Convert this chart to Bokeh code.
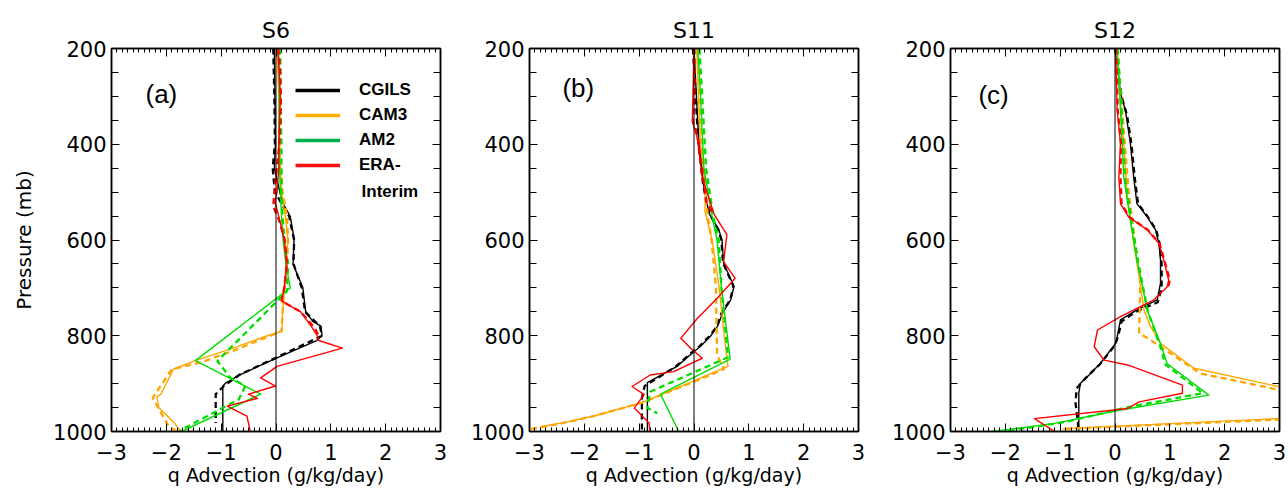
from bokeh.plotting import figure
from bokeh.layouts import row
from bokeh.models import (Range1d, SingleIntervalTicker, LinearAxis, Span,
                          Legend, LegendItem, Label)
from bokeh.embed import file_html
from bokeh.resources import INLINE

# ---------------- tick labels ----------------
X_TICKS = [-3, -2, -1, 0, 1, 2, 3]
X_TICK_LABELS = ["\u22123", "\u22122", "\u22121", "0", "1", "2", "3"]
Y_TICKS = [200, 400, 600, 800, 1000]
TITLES = ["S6", "S11", "S12"]
TAGS = ["(a)", "(b)", "(c)"]
MODELS = ["CGILS", "CAM3", "AM2", "ERA-"]
NAN = [float("nan")]

# ---------------- panel (a) S6 ----------------
A_CGILS_P = [200, 300, 400, 450, 490, 519, 551, 597, 650, 700, 749, 770, 780, 800, 810, 846, 881, 899, 905, 1000]
A_CGILS_X = [-0.03, -0.02, -0.01, -0.03, 0.05, 0.11, 0.26, 0.33, 0.31, 0.49, 0.54, 0.67, 0.82, 0.84, 0.74, 0.02, -0.65, -0.92, -0.97, -0.97]
A_CGILS_DP = [200, 300, 400, 450, 500, 551, 600, 650, 700, 750, 780, 800, 846, 881, 905, 922, 982]
A_CGILS_DX = [-0.05, -0.03, -0.02, -0.06, -0.02, 0.24, 0.33, 0.32, 0.47, 0.53, 0.80, 0.84, 0.00, -0.66, -0.95, -1.10, -1.10]

A_CAM3_P = [200, 300, 400, 500, 550, 600, 650, 700, 750, 791, 800, 826, 853, 870, 922, 927, 950, 981, 1000]
A_CAM3_X = [0.02, 0.05, 0.07, 0.10, 0.17, 0.22, 0.18, 0.16, 0.12, 0.11, -0.16, -0.78, -1.50, -1.87, -2.10, -2.17, -2.14, -1.86, -1.74]
A_CAM3_DP = [200, 300, 400, 500, 550, 600, 650, 700, 750, 790, 800, 830, 855, 870, 930, 990, 1000]
A_CAM3_DX = [0.05, 0.08, 0.06, 0.12, 0.20, 0.22, 0.20, 0.15, 0.12, 0.10, -0.10, -0.75, -1.35, -1.90, -2.25, -1.95, -1.80]

A_AM2_P = [200, 300, 400, 500, 550, 600, 650, 700, 852, 922, 1000]
A_AM2_X = [0.05, 0.06, 0.05, 0.08, 0.10, 0.13, 0.18, 0.26, -1.47, -0.28, -1.72]
A_AM2_DP = [200, 300, 400, 500, 550, 600, 650, 707, 853, 888, 905, 933, 998]
A_AM2_DX = [0.08, 0.08, 0.10, 0.10, 0.12, 0.15, 0.22, 0.20, -1.07, -0.83, -0.56, -0.68, -1.75]

A_ERA_P = [200, 250, 300, 400, 450, 500, 520, 550, 600, 650, 700, 727, 750, 783, 800, 810, 826, 864, 888, 905, 922, 931, 947, 968, 1000]
A_ERA_X = [0.03, 0.06, 0.08, 0.05, 0.05, 0.02, -0.02, 0.05, 0.15, 0.20, 0.15, 0.10, 0.45, 0.66, 0.75, 0.78, 1.21, 0.02, -0.28, -0.01, -0.50, -0.34, -0.89, -0.53, -0.47]
A_ERA_DP = [200, 250, 320, 400, 500, 530, 560, 600, 650, 700, 727, 750, 783, 800]
A_ERA_DX = [0.04, 0.08, 0.09, 0.06, -0.03, -0.05, 0.06, 0.16, 0.20, 0.15, 0.10, 0.45, 0.70, 0.78]

# ---------------- panel (b) S11 ----------------
B_CGILS_P = [200, 335, 400, 488, 544, 578, 600, 648, 697, 725, 753, 780, 801, 822, 836, 864, 898, 1000]
B_CGILS_X = [0.00, 0.06, 0.09, 0.18, 0.27, 0.45, 0.51, 0.54, 0.73, 0.67, 0.52, 0.43, 0.30, 0.12, -0.03, -0.31, -0.85, -0.85]
B_CGILS_DP = [200, 320, 400, 488, 544, 578, 600, 648, 697, 725, 753, 780, 801, 822, 836, 864, 905, 930, 1000]
B_CGILS_DX = [-0.02, 0.04, 0.08, 0.17, 0.28, 0.44, 0.50, 0.53, 0.72, 0.66, 0.50, 0.42, 0.28, 0.10, -0.05, -0.33, -0.90, -0.95, -0.95]

B_CAM3_P = [200, 300, 400, 495, 540, 600, 700, 800, 864, 938, 966, 980, 990]
B_CAM3_X = [0.05, 0.08, 0.12, 0.21, 0.20, 0.33, 0.46, 0.55, 0.62, -0.91, -1.77, -2.31, -2.80]
B_CAM3_DP = [200, 300, 400, 500, 550, 600, 700, 840, 870, 940, 970, 985, 995]
B_CAM3_DX = [0.07, 0.10, 0.14, 0.22, 0.25, 0.32, 0.40, 0.42, 0.55, -0.95, -1.90, -2.50, -3.00]

B_AM2_P = [200, 300, 450, 550, 600, 700, 849, 922, 1000]
B_AM2_X = [0.07, 0.12, 0.18, 0.33, 0.42, 0.50, 0.66, -0.61, -0.28]
B_AM2_DP = [200, 300, 450, 550, 600, 700, 845, 917, 951, 962]
B_AM2_DX = [0.10, 0.15, 0.22, 0.35, 0.45, 0.50, 0.62, -0.80, -0.85, -0.67]

B_ERA_P = [200, 352, 387, 470, 547, 589, 645, 680, 722, 764, 805, 826, 847, 875, 882, 906, 923, 951, 982, 1000]
B_ERA_X = [0.00, -0.03, 0.06, 0.15, 0.37, 0.60, 0.54, 0.75, 0.42, 0.06, -0.24, -0.06, 0.15, -0.37, -0.80, -1.13, -0.91, -1.09, -0.82, -0.80]
B_ERA_DP = [200, 300, 352, 387, 470, 520, 547]
B_ERA_DX = [0.01, 0.01, -0.02, 0.07, 0.17, 0.22, 0.36]

# ---------------- panel (c) S12 ----------------
C_CGILS_P = [200, 294, 329, 398, 468, 524, 552, 579, 607, 642, 690, 725, 746, 767, 802, 816, 857, 885, 899, 920, 1000]
C_CGILS_X = [0.01, 0.10, 0.19, 0.28, 0.34, 0.40, 0.59, 0.74, 0.80, 0.83, 0.83, 0.77, 0.40, 0.10, 0.04, 0.01, -0.26, -0.50, -0.63, -0.66, -0.66]
C_CGILS_DP = [200, 300, 340, 400, 470, 524, 552, 579, 610, 650, 700, 730, 750, 770, 800, 820, 860, 890, 910, 940, 1000]
C_CGILS_DX = [0.00, 0.12, 0.22, 0.30, 0.36, 0.42, 0.60, 0.75, 0.82, 0.85, 0.85, 0.78, 0.38, 0.12, 0.06, 0.00, -0.28, -0.55, -0.70, -0.72, -0.66]

C_CAM3_P = [200, 398, 503, 607, 677, 747, 781, 816, 868, 906, 940, 973, 994]
C_CAM3_X = [0.02, 0.16, 0.22, 0.34, 0.44, 0.53, 0.65, 0.83, 1.44, 2.98, 5.00, 2.98, -0.96]
C_CAM3_DP = [200, 400, 500, 600, 680, 750, 795, 809, 879, 913, 940, 975, 995]
C_CAM3_DX = [0.04, 0.18, 0.25, 0.36, 0.46, 0.45, 0.44, 0.65, 1.56, 3.00, 5.00, 3.00, -0.96]

C_AM2_P = [200, 329, 468, 559, 642, 747, 816, 858, 924, 955, 983, 1000]
C_AM2_X = [0.04, 0.10, 0.16, 0.28, 0.40, 0.59, 0.83, 0.95, 1.71, 0.10, -1.10, -2.23]
C_AM2_DP = [200, 330, 470, 560, 645, 750, 820, 860, 920, 950, 980, 1000]
C_AM2_DX = [0.05, 0.12, 0.18, 0.30, 0.42, 0.60, 0.82, 0.92, 1.60, 0.20, -0.90, -2.00]

C_ERA_P = [200, 329, 398, 468, 524, 552, 579, 607, 642, 684, 698, 725, 760, 788, 823, 851, 861, 903, 920, 938, 952, 973, 1000]
C_ERA_X = [0.01, 0.04, 0.10, 0.07, 0.10, 0.25, 0.59, 0.80, 0.89, 0.98, 0.95, 0.71, 0.10, -0.32, -0.38, -0.20, 0.23, 1.23, 1.23, 0.44, 0.23, -1.47, -1.10]
C_ERA_DP = [200, 329, 398, 468, 524, 552, 579, 607, 642, 684, 698]
C_ERA_DX = [0.02, 0.05, 0.11, 0.10, 0.12, 0.26, 0.60, 0.81, 0.90, 1.00, 0.97]

COLORS = ["black", "#FFA500", "#00DD00", "#FF0000"]
LEGEND_COLORS = ["black", "#FFB000", "#00B050", "#FF1010"]

PANELS = [
    [(A_CGILS_P, A_CGILS_X, A_CGILS_DP, A_CGILS_DX), (A_CAM3_P, A_CAM3_X, A_CAM3_DP, A_CAM3_DX),
     (A_AM2_P, A_AM2_X, A_AM2_DP, A_AM2_DX), (A_ERA_P, A_ERA_X, A_ERA_DP, A_ERA_DX)],
    [(B_CGILS_P, B_CGILS_X, B_CGILS_DP, B_CGILS_DX), (B_CAM3_P, B_CAM3_X, B_CAM3_DP, B_CAM3_DX),
     (B_AM2_P, B_AM2_X, B_AM2_DP, B_AM2_DX), (B_ERA_P, B_ERA_X, B_ERA_DP, B_ERA_DX)],
    [(C_CGILS_P, C_CGILS_X, C_CGILS_DP, C_CGILS_DX), (C_CAM3_P, C_CAM3_X, C_CAM3_DP, C_CAM3_DX),
     (C_AM2_P, C_AM2_X, C_AM2_DP, C_AM2_DX), (C_ERA_P, C_ERA_X, C_ERA_DP, C_ERA_DX)],
]

# tag positions in data units
TAG_X = [-2.38, -2.40, -2.49]
TAG_Y = [294, 282, 297]

FONT = "DejaVu Sans"
FRAME_H = 383
TOP = 48
HEIGHT = 495
LAYOUT = [  # width, left, right
    (460, 111, 20),
    (418, 69, 20),
    (410, 72, 9),
]


def style_axis(ax, show_labels, minor_len):
    ax.major_tick_in = 8
    ax.major_tick_out = 0
    ax.minor_tick_in = minor_len
    ax.minor_tick_out = 0
    ax.axis_line_color = "black"
    ax.axis_line_width = 1.5
    ax.major_tick_line_color = "black"
    ax.minor_tick_line_color = "black"
    ax.major_label_text_font = FONT
    if show_labels:
        ax.major_label_text_color = "black"
        ax.major_label_text_font_size = "21px"
        ax.major_label_standoff = 6
    else:
        ax.major_label_text_color = None
        ax.major_label_text_font_size = "0px"
        ax.major_label_standoff = 0
        ax.axis_label_standoff = 0


figs = []
for i in range(3):
    w, bl, br = LAYOUT[i]
    p = figure(width=w, height=HEIGHT, x_range=Range1d(-3, 3), y_range=Range1d(1000, 200),
               output_backend="svg", toolbar_location=None, title=TITLES[i],
               min_border_left=bl, min_border_right=br, min_border_top=TOP,
               min_border_bottom=HEIGHT - TOP - FRAME_H)
    p.title.align = "center"
    p.title.text_font = FONT
    p.title.text_font_size = "22px"
    p.title.text_font_style = "normal"
    p.title.text_color = "black"
    p.title.standoff = 12
    p.xgrid.visible = False
    p.ygrid.visible = False
    p.outline_line_color = "black"
    p.outline_line_width = 1.5
    p.background_fill_color = "white"
    p.border_fill_color = "white"

    xax = p.xaxis[0]
    xax.ticker = SingleIntervalTicker(interval=1, num_minor_ticks=10)
    xax.major_label_overrides = dict(zip(X_TICKS, X_TICK_LABELS))
    style_axis(xax, True, 4)
    xax.major_label_standoff = 12
    xax.axis_label = "q Advection (g/kg/day)"
    xax.axis_label_text_font = FONT
    xax.axis_label_text_font_size = "19px"
    xax.axis_label_text_font_style = "normal"
    xax.axis_label_text_color = "black"
    xax.axis_label_standoff = 1

    yax = p.yaxis[0]
    yax.ticker = SingleIntervalTicker(interval=200, num_minor_ticks=4)
    style_axis(yax, True, 7)
    yax.major_label_standoff = 5
    if i == 0:
        yax.axis_label = "Pressure (mb)"
        yax.axis_label_text_font = FONT
        yax.axis_label_text_font_size = "20px"
        yax.axis_label_text_font_style = "normal"
        yax.axis_label_text_color = "black"
        yax.axis_label_standoff = 14

    top = LinearAxis(ticker=SingleIntervalTicker(interval=1, num_minor_ticks=10))
    style_axis(top, False, 4)
    p.add_layout(top, "above")
    right = LinearAxis(ticker=SingleIntervalTicker(interval=200, num_minor_ticks=4))
    style_axis(right, False, 7)
    p.add_layout(right, "right")

    p.add_layout(Span(location=0, dimension="height", line_color="black", line_width=1))

    for (ps, xs, pd, xd), c in zip(PANELS[i], COLORS):
        p.line(xd, pd, line_color=c, line_width=2.3, line_dash="6 4")
        p.line(xs, ps, line_color=c, line_width=1.4, line_join="round")

    p.add_layout(Label(x=TAG_X[i], y=TAG_Y[i], text=TAGS[i], text_font="Liberation Sans",
                       text_font_size="26px", text_baseline="middle", text_color="black"))

    if i == 0:
        items = []
        for name, c in zip(MODELS, LEGEND_COLORS):
            r = p.line(NAN, NAN, line_color=c, line_width=3.5)
            items.append(LegendItem(label=name, renderers=[r]))
        leg = Legend(items=items, location=(184, 256), padding=0, margin=0,
                     spacing=5, glyph_width=45, glyph_height=20, label_height=20,
                     label_standoff=19, label_text_font="Liberation Sans",
                     label_text_font_size="17px", label_text_font_style="bold",
                     label_text_color="black",
                     background_fill_alpha=0, border_line_alpha=0)
        p.add_layout(leg)
        p.add_layout(Label(x=1.56, y=498, text="Interim", text_font="Liberation Sans",
                           text_font_size="17px", text_font_style="bold",
                           text_baseline="middle", text_color="black"))
    figs.append(p)

layout = row(*figs)
open("out.html", "w").write(file_html(layout, INLINE))
